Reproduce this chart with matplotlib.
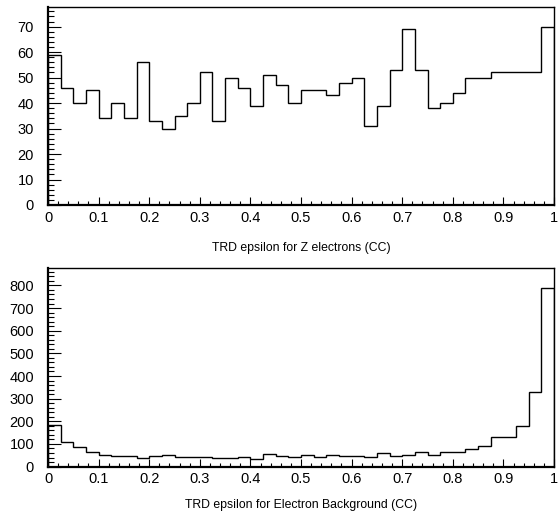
import matplotlib
matplotlib.use("Agg")
import matplotlib.pyplot as plt
import numpy as np
from matplotlib.ticker import MultipleLocator, FuncFormatter

plt.rcParams['font.family'] = ['Liberation Sans', 'DejaVu Sans']

# 40 bins in epsilon, 0..1
bin_edges = np.linspace(0.0, 1.0, 41)

z_electrons = [59, 46, 40, 45, 34, 40, 34, 56, 33, 30,
               35, 40, 52, 33, 50, 46, 39, 51, 47, 40,
               45, 45, 43, 48, 50, 31, 39, 53, 69, 53,
               38, 40, 44, 50, 50, 52, 52, 52, 52, 70]

background = [184, 107, 85, 66, 52, 48, 48, 36, 47, 52,
              44, 44, 44, 40, 36, 42, 34, 54, 47, 44,
              50, 42, 52, 45, 45, 41, 58, 45, 52, 65,
              50, 65, 65, 78, 92, 129, 132, 178, 328, 790]

titles = ["TRD epsilon for Z electrons (CC)",
          "TRD epsilon for Electron Background (CC)"]

W, H = 558, 520
fig = plt.figure(figsize=(W / 100, H / 100), dpi=100)


def make_axes(top, bottom):
    return fig.add_axes([48 / W, 1 - bottom / H, (554 - 48) / W, (bottom - top) / H])


def style(ax, ymax, ymajor, yminor):
    ax.set_xlim(0, 1)
    ax.set_ylim(0, ymax)
    ax.xaxis.set_major_locator(MultipleLocator(0.1))
    ax.xaxis.set_minor_locator(MultipleLocator(0.02))
    ax.yaxis.set_major_locator(MultipleLocator(ymajor))
    ax.yaxis.set_minor_locator(MultipleLocator(yminor))
    ax.xaxis.set_major_formatter(FuncFormatter(lambda v, p: f"{v:g}"))
    ax.tick_params(axis='both', which='both', direction='in', labelsize=10.5,
                   width=0.8, colors='black')
    ax.tick_params(axis='x', which='major', length=6, pad=4)
    ax.tick_params(axis='x', which='minor', length=3)
    ax.tick_params(axis='y', which='major', length=9, pad=10)
    ax.tick_params(axis='y', which='minor', length=4)
    for s in ax.spines.values():
        s.set_linewidth(1.0)
    ax.spines['left'].set_linewidth(1.6)
    ax.spines['bottom'].set_linewidth(1.6)


ax1 = make_axes(7, 205)
ax1.stairs(z_electrons, bin_edges, color='black', linewidth=1.0)
style(ax1, 77.7, 10, 2)
fig.text(301 / W, 1 - 248 / H, titles[0], ha='center', va='center', fontsize=8.8)

ax2 = make_axes(268, 466.6)
ax2.stairs(background, bin_edges, color='black', linewidth=1.0)
style(ax2, 877, 100, 20)
fig.text(301 / W, 1 - 505 / H, titles[1], ha='center', va='center', fontsize=8.8)

fig.savefig("out.png", dpi=100)
